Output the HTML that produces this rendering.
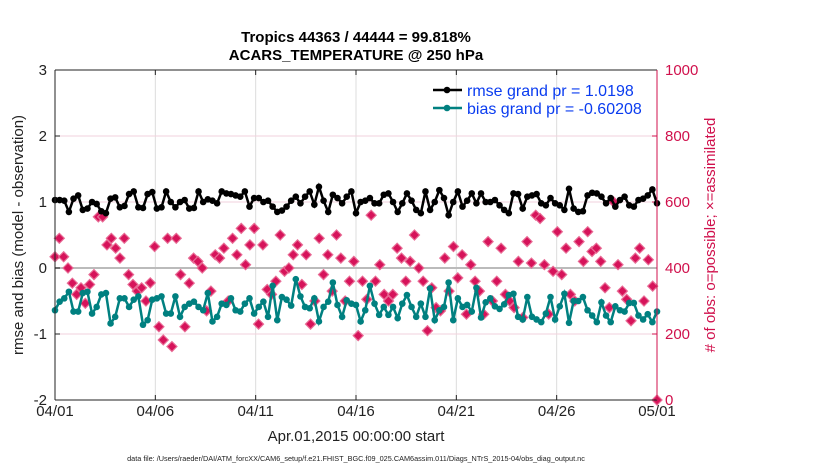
<!DOCTYPE html>
<html><head><meta charset="utf-8"><style>
body{margin:0;background:#fff;font-family:"Liberation Sans",sans-serif}
svg{display:block}
</style></head><body>
<svg id="c" width="830" height="470" xmlns="http://www.w3.org/2000/svg" font-family="Liberation Sans, sans-serif"></svg>
<script>
const xTickLabels=["04/01","04/06","04/11","04/16","04/21","04/26","05/01"];
const yLeftTicks=[-2,-1,0,1,2,3];
const yRightTicks=[0,200,400,600,800,1000];
const rmse=[1.03,1.03,1.02,0.85,1.05,1.10,0.88,0.90,1.00,0.97,0.86,0.83,1.05,1.07,0.92,0.94,1.12,1.16,0.92,0.91,1.12,1.15,0.90,0.92,1.16,1.00,0.92,1.00,1.03,0.90,0.91,1.16,1.00,1.04,1.02,0.98,1.16,1.13,1.12,1.10,1.08,
1.16,0.93,1.06,1.06,1.00,1.02,0.93,0.85,0.87,0.93,1.02,1.08,0.98,1.08,1.16,0.96,1.23,1.02,0.85,1.11,1.06,0.98,1.08,1.16,0.83,1.00,1.02,1.06,0.98,0.98,1.11,1.13,1.00,0.85,0.98,1.13,1.02,0.88,0.83,1.16,0.88,1.00,1.18,1.06,0.80,1.00,1.16,0.93,1.02,1.13,
0.98,1.13,1.00,1.00,1.03,0.95,0.88,0.83,1.13,1.12,0.90,1.08,1.10,1.12,0.98,0.95,1.06,0.98,0.95,0.88,1.20,0.90,0.85,0.86,1.10,1.14,1.13,1.08,0.98,1.06,0.93,1.03,1.08,0.95,0.93,1.03,1.05,1.10,1.19,0.98];
const bias=[-0.64,-0.51,-0.46,-0.36,-0.66,-0.66,-0.38,-0.36,-0.69,-0.59,-0.40,-0.38,-0.84,-0.74,-0.46,-0.46,-0.59,-0.48,-0.43,-0.86,-0.79,-0.48,-0.46,-0.43,-0.69,-0.69,-0.43,-0.74,-0.59,-0.54,-0.51,-0.59,-0.64,-0.38,-0.81,-0.74,-0.54,-0.56,-0.46,-0.64,-0.66,
-0.54,-0.46,-0.69,-0.59,-0.51,-0.74,-0.27,-0.79,-0.44,-0.48,-0.57,-0.17,-0.43,-0.59,-0.61,-0.46,-0.81,-0.59,-0.51,-0.22,-0.56,-0.74,-0.49,-0.54,-0.56,-0.81,-0.64,-0.27,-0.54,-0.71,-0.59,-0.71,-0.59,-0.76,-0.54,-0.41,-0.59,-0.74,-0.54,-0.74,-0.31,-0.79,-0.64,-0.59,-0.22,-0.79,-0.46,-0.59,-0.56,-0.66,
-0.30,-0.75,-0.52,-0.46,-0.58,-0.62,-0.55,-0.41,-0.39,-0.74,-0.78,-0.44,-0.74,-0.78,-0.82,-0.69,-0.44,-0.78,-0.58,-0.39,-0.83,-0.50,-0.50,-0.44,-0.64,-0.72,-0.82,-0.52,-0.72,-0.82,-0.58,-0.64,-0.66,-0.53,-0.53,-0.72,-0.78,-0.70,-0.82,-0.66];
const obs=[434,490,434,400,354,320,340,293,350,380,555,555,470,490,460,430,490,380,350,330,340,300,355,465,222,182,490,162,490,380,222,354,430,420,400,270,330,440,430,460,300,
490,440,520,410,470,520,230,470,335,320,360,500,390,400,440,470,350,440,230,300,490,380,440,330,500,430,300,360,420,195,360,305,560,360,410,320,300,320,460,430,360,420,500,400,360,210,340,280,270,430,
330,465,370,440,260,410,360,330,260,480,300,360,460,320,300,280,420,250,480,415,560,550,410,260,390,510,380,460,320,300,480,420,510,450,460,420,340,280,600,410,330,305,240,430,460,300,425,345,0];
const svg=document.getElementById('c');const NS='http://www.w3.org/2000/svg';
const X0=55,X1=657,Y0=70,Y1=400;
const xs=(i,n)=>X0+(i/(n-1))*(X1-X0);
const yL=v=>Y1-(v+2)/5*(Y1-Y0);
const yR=v=>Y1-v/1000*(Y1-Y0);
function el(t,a,p){const e=document.createElementNS(NS,t);for(const k in a)e.setAttribute(k,a[k]);(p||svg).appendChild(e);return e;}
xTickLabels.forEach((l,i)=>{const x=X0+i*(X1-X0)/6;
 if(i>0&&i<6){const g=el('line',{x1:x,x2:x,y1:Y0,y2:Y1,stroke:'#dcdcdc','stroke-width':1});}
 const t=el('text',{x:x,y:416,'text-anchor':'middle','font-size':15,fill:'#222'});t.textContent=l;
 
 el('line',{x1:x,x2:x,y1:Y1,y2:Y1-5,stroke:'#222'});el('line',{x1:x,x2:x,y1:Y0,y2:Y0+5,stroke:'#222'});
});
yRightTicks.forEach(v=>{const y=yR(v);
 if(v>0&&v<1000&&v!=400){const g=el('line',{x1:X0,x2:X1,y1:y,y2:y,stroke:'#f2d2dc','stroke-width':1});}
 el('line',{x1:X1,x2:X1-5,y1:y,y2:y,stroke:'#d0104c'});
 const t=el('text',{x:X1+8,y:y+5,'font-size':15,fill:'#d0104c'});t.textContent=v;
 
});
const z=el('line',{x1:X0,x2:X1,y1:yL(0),y2:yL(0),stroke:'#bbb','stroke-width':2});

yLeftTicks.forEach(v=>{const y=yL(v);
 el('line',{x1:X0,x2:X0+5,y1:y,y2:y,stroke:'#222'});
 const t=el('text',{x:X0-8,y:y+5,'text-anchor':'end','font-size':15,fill:'#222'});t.textContent=v;
 
});
obs.forEach((v,i)=>{const x=xs(i,obs.length),y=yR(v);
 const p=el('path',{d:`M${x-5},${y}L${x},${y-5}L${x+5},${y}L${x},${y+5}Z`,fill:'#d6135a',stroke:'#e86a94','stroke-width':1.2});
 });
function series(arr,col,name){
 const n=arr.length;
 const pl=el('polyline',{points:arr.map((v,i)=>xs(i,n)+','+yL(v)).join(' '),fill:'none',stroke:col,'stroke-width':2.5});
 
 arr.forEach((v,i)=>{const c=el('circle',{cx:xs(i,n),cy:yL(v),r:3.3,fill:col});
  });
}
series(bias,'#008080','bias');
series(rmse,'#000','rmse');
el('line',{x1:X0,x2:X0,y1:Y0,y2:Y1,stroke:'#222'});
el('line',{x1:X0,x2:X1,y1:Y1,y2:Y1,stroke:'#222'});
el('line',{x1:X0,x2:X1,y1:Y0,y2:Y0,stroke:'#222'});
el('line',{x1:X1,x2:X1,y1:Y0,y2:Y1,stroke:'#d0104c'});
[['rmse grand pr = 1.0198','#000',90],['bias grand pr = -0.60208','#008080',108]].forEach(([s,c,y])=>{
 el('line',{x1:433,x2:462,y1:y,y2:y,stroke:c,'stroke-width':2.5});el('circle',{cx:447,cy:y,r:3.3,fill:c});
 const t=el('text',{x:467,y:y+6,'font-size':16,fill:'#0a3cf0'});t.textContent=s;
 
});
function txt(s,a,name){const t=el('text',a);t.textContent=s;return t;}
txt('Tropics 44363 / 44444 = 99.818%',{x:356,y:42,'text-anchor':'middle','font-size':15,'font-weight':'bold',fill:'#000'},'chart-title');
txt('ACARS_TEMPERATURE @ 250 hPa',{x:356,y:60,'text-anchor':'middle','font-size':15,'font-weight':'bold',fill:'#000'},'chart-subtitle');
txt('Apr.01,2015 00:00:00 start',{x:356,y:441,'text-anchor':'middle','font-size':15,fill:'#222'},'x-axis-title');
txt('rmse and bias (model - observation)',{x:0,y:0,'text-anchor':'middle','font-size':15,fill:'#222',transform:'translate(23,235) rotate(-90)'},'y-axis-title');
txt('# of obs: o=possible; \u00d7=assimilated',{x:0,y:0,'text-anchor':'middle','font-size':15,fill:'#d0104c',transform:'translate(715,235) rotate(-90)'},'right-axis-title');
txt('data file: /Users/raeder/DAI/ATM_forcXX/CAM6_setup/f.e21.FHIST_BGC.f09_025.CAM6assim.011/Diags_NTrS_2015-04/obs_diag_output.nc',{x:356,y:461,'text-anchor':'middle','font-size':7.3,fill:'#222'},'data-file-note');
</script>
</body></html>
